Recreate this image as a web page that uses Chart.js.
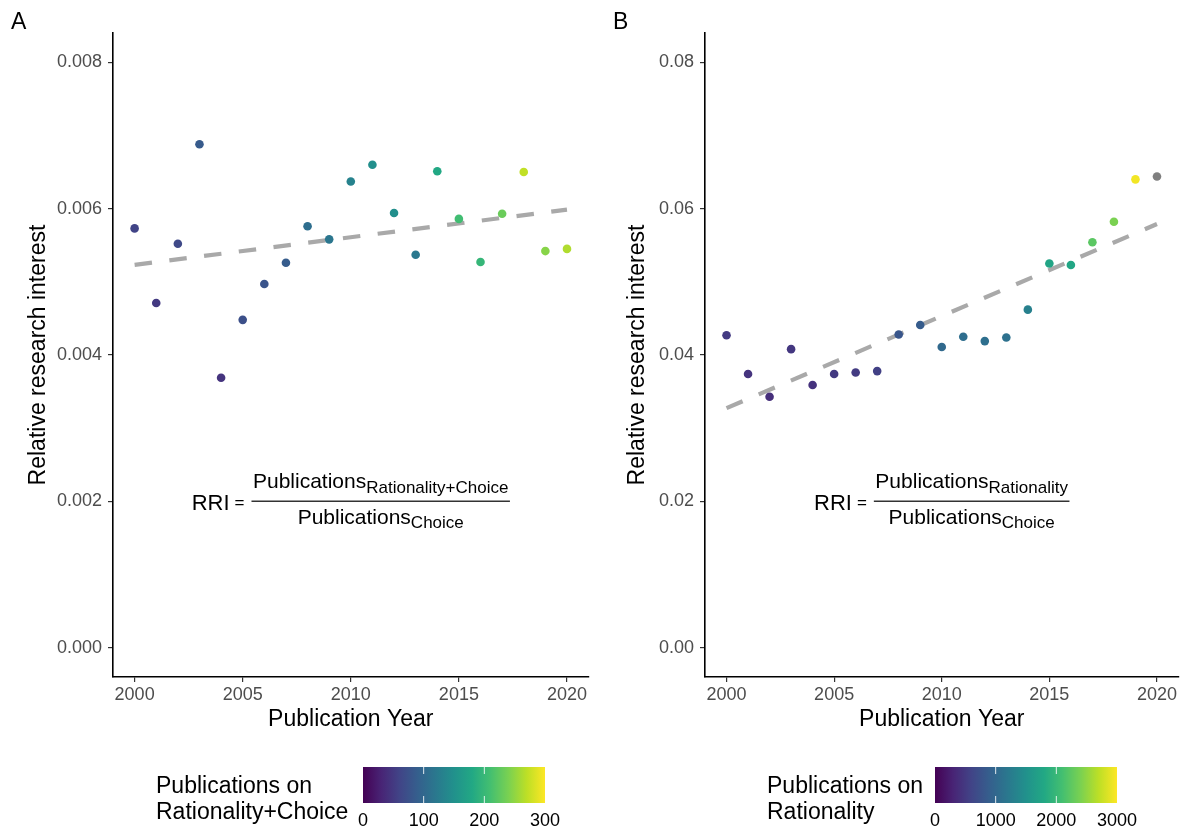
<!DOCTYPE html>
<html>
<head>
<meta charset="utf-8">
<script src="https://cdn.jsdelivr.net/npm/chart.js@4/dist/chart.umd.min.js"></script>
<style>
  body { margin: 0; background: #fff; }
  #wrap { position: relative; width: 1186px; height: 832px; }
  canvas { position: absolute; top: 0; }
</style>
</head>
<body>
<div id="wrap">
  <canvas id="chartA" width="593" height="832" style="left:0"></canvas>
  <canvas id="chartB" width="593" height="832" style="left:593px"></canvas>
</div>
<script>
const years = [2000, 2001, 2002, 2003, 2004, 2005, 2006, 2007, 2008, 2009, 2010,
               2011, 2012, 2013, 2014, 2015, 2016, 2017, 2018, 2019, 2020];

// A: rationality+choice / choice
const rriA = [0.00573, 0.00471, 0.00552, 0.00688, 0.00369, 0.00448, 0.00497, 0.00526, 0.00576, 0.00558, 0.00637,
              0.00660, 0.00594, 0.00537, 0.00651, 0.00586, 0.00527, 0.00593, 0.00650, 0.00542, 0.00545];
const pubsA = [60, 50, 65, 85, 45, 72, 78, 87, 108, 117, 132,
               148, 147, 120, 180, 207, 198, 231, 272, 246, 264];

// B: rationality / choice (no count for 2020)
const rriB = [0.0427, 0.0374, 0.0343, 0.0408, 0.0359, 0.0374, 0.0376, 0.0378, 0.0428, 0.0441, 0.0411,
              0.0425, 0.0419, 0.0424, 0.0462, 0.0525, 0.0523, 0.0554, 0.0582, 0.0640, 0.0644];
const pubsB = [510, 450, 400, 480, 430, 500, 520, 560, 800, 870, 1020,
               1080, 1090, 1110, 1300, 1750, 1780, 2230, 2400, 2950, null];

const xTicks = [2000, 2005, 2010, 2015, 2020];
const yTicksA = [0, 0.002, 0.004, 0.006, 0.008];
const yTicksB = [0, 0.02, 0.04, 0.06, 0.08];
const barTicksA = [0, 100, 200, 300];
const barTicksB = [0, 1000, 2000, 3000];

const FONT = "'Liberation Sans', Arial, Helvetica, sans-serif";
Chart.defaults.font.family = FONT;

const viridis = ['#440154', '#482475', '#414487', '#355f8d', '#2a788e', '#21918c',
                 '#22a884', '#44bf70', '#7ad151', '#bddf26', '#fde725'];

function hexRgb(h) {
  return [1, 3, 5].map(i => parseInt(h.slice(i, i + 2), 16));
}

function viridisAt(t) {
  t = Math.max(0, Math.min(1, t));
  const p = t * 10;
  const i = Math.min(9, Math.floor(p));
  const f = p - i;
  const a = hexRgb(viridis[i]), b = hexRgb(viridis[i + 1]);
  const c = a.map((v, k) => Math.round(v + (b[k] - v) * f));
  return `rgb(${c[0]},${c[1]},${c[2]})`;
}

// least squares line through the points, drawn across the year range
function lmLine(xs, ys) {
  const n = xs.length;
  const mx = xs.reduce((s, v) => s + v, 0) / n;
  const my = ys.reduce((s, v) => s + v, 0) / n;
  let sxy = 0, sxx = 0;
  xs.forEach((x, i) => { sxy += (x - mx) * (ys[i] - my); sxx += (x - mx) * (x - mx); });
  const b = sxy / sxx;
  return [xs[0], xs[n - 1]].map(x => ({ x, y: my + b * (x - mx) }));
}

const panelExtras = {
  id: 'panelExtras',
  afterDraw(chart, args, opts) {
    const { ctx, scales: { x, y } } = chart;
    ctx.save();

    // panel letter
    ctx.fillStyle = '#000';
    ctx.font = `23px ${FONT}`;
    ctx.textAlign = 'left';
    ctx.textBaseline = 'alphabetic';
    ctx.fillText(opts.letter, opts.letterX, 29);

    // RRI formula, centred on its data position
    const cx = x.getPixelForValue(opts.formulaAt[0]);
    const cy = y.getPixelForValue(opts.formulaAt[1]);
    const big = `21px ${FONT}`, small = `17px ${FONT}`, rri = `22px ${FONT}`;
    ctx.font = big;
    const wP = ctx.measureText('Publications').width;
    ctx.font = small;
    const wNum = wP + ctx.measureText(opts.numSub).width;
    const wDen = wP + ctx.measureText(opts.denSub).width;
    const wE = ctx.measureText('=').width;
    const barW = Math.max(wNum, wDen) + 3;
    ctx.font = rri;
    const wR = ctx.measureText('RRI').width;
    let fx = cx - (wR + 5 + wE + 7 + barW) / 2;
    ctx.fillText('RRI', fx, cy + 8.5);
    fx += wR + 5;
    ctx.font = small;
    ctx.fillText('=', fx, cy + 7);
    fx += wE + 7;
    ctx.strokeStyle = '#333';
    ctx.lineWidth = 1.5;
    ctx.beginPath();
    ctx.moveTo(fx, cy);
    ctx.lineTo(fx + barW, cy);
    ctx.stroke();
    const mid = fx + barW / 2;
    ctx.font = big;
    ctx.fillText('Publications', mid - wNum / 2, cy - 13.5);
    ctx.fillText('Publications', mid - wDen / 2, cy + 22.5);
    ctx.font = small;
    ctx.fillText(opts.numSub, mid - wNum / 2 + wP, cy - 8.5);
    ctx.fillText(opts.denSub, mid - wDen / 2 + wP, cy + 26.5);

    // colour bar legend
    const lg = opts.legend;
    ctx.font = `23px ${FONT}`;
    ctx.textBaseline = 'middle';
    ctx.fillText(lg.title[0], lg.titleX, 787);
    ctx.fillText(lg.title[1], lg.titleX, 813);
    const top = 767, h = 36;
    const grad = ctx.createLinearGradient(lg.barX, 0, lg.barX + lg.barW, 0);
    viridis.forEach((c, i) => grad.addColorStop(i / 10, c));
    ctx.fillStyle = grad;
    ctx.fillRect(lg.barX, top, lg.barW, h);
    const lo = lg.ticks[0], hi = lg.ticks[lg.ticks.length - 1];
    ctx.strokeStyle = 'rgba(255,255,255,0.85)';
    ctx.lineWidth = 1;
    ctx.font = `18px ${FONT}`;
    ctx.textAlign = 'center';
    ctx.fillStyle = '#000';
    lg.ticks.forEach(v => {
      const px = lg.barX + (v - lo) / (hi - lo) * lg.barW;
      if (v !== lo && v !== hi) {
        ctx.beginPath();
        ctx.moveTo(px, top); ctx.lineTo(px, top + 7);
        ctx.moveTo(px, top + h - 7); ctx.lineTo(px, top + h);
        ctx.stroke();
      }
      ctx.fillText(String(v), px, 821);
    });
    ctx.restore();
  }
};

function axisCommon() {
  return {
    border: { display: true, color: '#000', width: 1.6 },
    grid: { display: true, drawOnChartArea: false, drawTicks: true, tickLength: 5, color: '#333', lineWidth: 1.2 }
  };
}

function makePanel(id, p) {
  return new Chart(document.getElementById(id), {
    data: {
      datasets: [
        {
          type: 'scatter',
          data: years.map((yr, i) => ({ x: yr, y: p.rri[i] })),
          backgroundColor: p.pubs.map(v => v == null ? '#7f7f7f' : viridisAt(v / p.barMax)),
          pointRadius: 4.3,
          borderWidth: 0,
          order: 0
        },
        {
          type: 'line',
          data: lmLine(years, p.rri),
          borderColor: '#a9a9a9',
          borderWidth: 4.2,
          borderDash: [17.5, 17.5],
          pointRadius: 0,
          fill: false,
          order: 1
        }
      ]
    },
    options: {
      responsive: false,
      animation: false,
      events: [],
      layout: { padding: { left: p.padLeft, top: 33, right: p.padRight, bottom: 99 } },
      plugins: {
        legend: { display: false },
        tooltip: { enabled: false },
        panelExtras: p.extras
      },
      scales: {
        x: {
          type: 'linear',
          min: 1999,
          max: 2021,
          ...axisCommon(),
          afterBuildTicks: s => { s.ticks = xTicks.map(v => ({ value: v })); },
          afterFit: s => { s.height = 56; },
          ticks: { color: '#4d4d4d', font: { size: 18 }, padding: 2, maxRotation: 0, callback: v => String(v) },
          title: { display: true, text: 'Publication Year', color: '#000', font: { size: 23 }, padding: 0 }
        },
        y: {
          type: 'linear',
          min: p.yMin,
          max: p.yMax,
          ...axisCommon(),
          afterBuildTicks: s => { s.ticks = p.yTicks.map(v => ({ value: v })); },
          afterFit: s => { s.width = p.yWidth; },
          ticks: { color: '#4d4d4d', font: { size: 18 }, padding: 6, callback: v => v.toFixed(p.decimals) },
          title: { display: true, text: 'Relative research interest', color: '#000', font: { size: 23 }, padding: 0 }
        }
      }
    },
    plugins: [panelExtras]
  });
}

makePanel('chartA', {
  rri: rriA, pubs: pubsA, barMax: 300,
  yMin: -0.0004, yMax: 0.0084, yTicks: yTicksA, decimals: 3,
  padLeft: 25, yWidth: 88, padRight: 4.4,
  extras: {
    letter: 'A', letterX: 11,
    formulaAt: [2010, 0.002],
    numSub: 'Rationality+Choice', denSub: 'Choice',
    legend: { title: ['Publications on', 'Rationality+Choice'], titleX: 156, barX: 363, barW: 182, ticks: barTicksA }
  }
});

makePanel('chartB', {
  rri: rriB, pubs: pubsB, barMax: 3000,
  yMin: -0.004, yMax: 0.084, yTicks: yTicksB, decimals: 2,
  padLeft: 31, yWidth: 81, padRight: 7.5,
  extras: {
    letter: 'B', letterX: 20,
    formulaAt: [2010, 0.02],
    numSub: 'Rationality', denSub: 'Choice',
    legend: { title: ['Publications on', 'Rationality'], titleX: 174, barX: 342, barW: 182, ticks: barTicksB }
  }
});
</script>
</body>
</html>
